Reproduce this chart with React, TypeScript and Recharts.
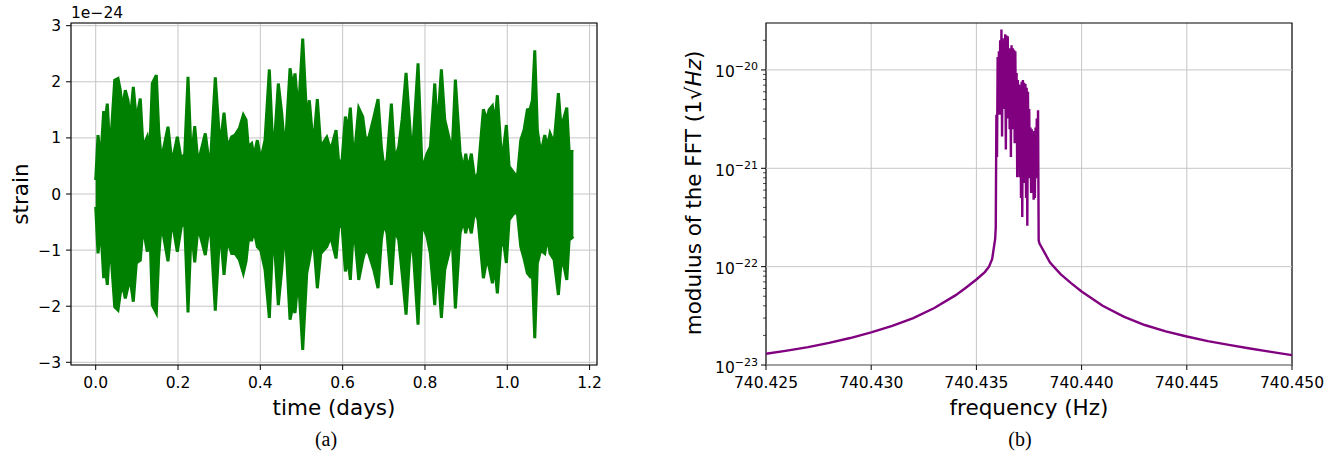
import React from 'react';
import {
  ComposedChart, Area, LineChart, Line, XAxis, YAxis, CartesianGrid, ReferenceArea, ReferenceLine,
} from 'recharts';

// (a) strain envelope, values in units of 1e-24
const timeDays = [
  0, 0.0056, 0.0122, 0.0194, 0.0233, 0.0282, 0.0348, 0.0462, 0.0542, 0.0598, 0.0646, 0.0719, 0.0785, 0.0841,
  0.0914, 0.0987, 0.1084, 0.1149, 0.1254, 0.1312, 0.1375, 0.1473, 0.1531, 0.1594, 0.1757, 0.1854, 0.1983,
  0.208, 0.2163, 0.2243, 0.2323, 0.2406, 0.2486, 0.2663, 0.2778, 0.2906,
  0.3021, 0.3118, 0.3198, 0.3305, 0.3385, 0.349, 0.3587, 0.3653, 0.3708, 0.3791, 0.3847, 0.3927, 0.401,
  0.4114, 0.4219, 0.4316, 0.4437, 0.452, 0.46, 0.4722, 0.4787, 0.4843, 0.4924, 0.503, 0.5128, 0.5191,
  0.5288, 0.5385, 0.5468, 0.5614, 0.5711, 0.584,
  0.5905, 0.5986, 0.6066, 0.6131, 0.6187, 0.627, 0.6391, 0.6488, 0.6552, 0.6634, 0.6756, 0.686, 0.6941,
  0.6999, 0.7079, 0.7184, 0.7266, 0.7363, 0.7444, 0.7541, 0.7621, 0.7687, 0.7832, 0.793, 0.8051, 0.8131,
  0.8238, 0.8301, 0.8399, 0.8481, 0.8578, 0.8659, 0.8739,
  0.8853, 0.8933, 0.8991, 0.9047, 0.9127, 0.921, 0.929, 0.9419, 0.9502, 0.9558, 0.9638, 0.9696, 0.9759,
  0.9842, 0.9905, 0.9978, 1.0044, 1.0165, 1.0246, 1.0328, 1.0408, 1.0488, 1.0554, 1.061, 1.0668, 1.0731,
  1.0814, 1.0911, 1.0974, 1.104, 1.1137, 1.1242, 1.13, 1.1363, 1.1446, 1.1502, 1.1606,
];
const strainUpper = [
  0.25, 1.05, 0.61, 1.48, 1.32, 1.61, 0.72, 2.03, 2.06, 1.85, 1.5, 1.85, 1.67, 1.32, 1.91, 1.32, 1.7, 0.84,
  1.02, 0.72, 1.97, 2.12, 1.14, 0.61, 1.2, 0.55, 1.02, 0.61, 0.72, 2.09, 0.61, 1.21, 0.55, 1.08, 0.43, 2.08,
  0.84, 1.45, 0.84, 1.02, 1.05, 1.17, 1.41, 1.32, 0.84, 0.9, 0.67, 0.96, 0.61, 0.96, 2.22, 0.61, 1.97, 1.44,
  0.72, 2.24, 1.91, 2.15, 1.44, 2.77, 1.32, 1.67, 0.84, 1.69, 0.84, 1.01, 0.78, 1.14,
  0.55, 0.61, 1.38, 1.14, 1.54, 0.55, 1.53, 1.38, 1.0, 1.0, 1.36, 1.69, 0.84, 0.49, 0.61, 1.61, 0.61, 0.84,
  1.32, 2.16, 1.32, 0.61, 2.33, 0.43, 0.72, 0.84, 1.97, 1.14, 2.22, 1.32, 1.02, 0.72, 2.04,
  0.75, 0.43, 0.72, 0.43, 0.72, 0.25, 0.37, 1.51, 1.32, 1.5, 1.57, 1.25, 1.76, 0.84, 0.78, 1.23, 0.49, 0.37,
  0.31, 0.96, 1.14, 1.5, 1.51, 1.67, 2.56, 1.14, 0.72, 1.05, 0.84, 1.08, 0.9, 1.8, 1.25, 1.32, 1.54, 0.78, 0.75,
];
const strainLower = [
  -0.23, -1.06, -0.58, -1.5, -1.29, -1.62, -0.82, -2.01, -2.07, -1.77, -1.6, -1.86, -1.65, -1.53, -1.92, -1.23,
  -1.18, -0.58, -1.03, -0.52, -1.98, -2.12, -1.12, -0.52, -1.2, -0.46, -1.03, -0.58, -0.52, -2.11, -0.58, -1.22,
  -0.58, -1.09, -0.46, -2.08,
  -0.58, -1.44, -0.82, -1.06, -1.06, -1.17, -1.41, -1.2, -0.82, -0.82, -0.64, -0.94, -1.0, -1.35, -2.21, -0.58,
  -1.98, -1.35, -0.58, -2.24, -2.0, -2.12, -1.47, -2.78, -1.41, -1.17, -0.76, -1.68, -1.06, -0.94, -0.76, -1.15,
  -0.58, -0.58, -1.38, -1.17, -1.53, -0.52, -1.53, -1.17, -1.0, -1.06, -1.35, -1.68, -0.82, -0.52, -0.7, -1.62,
  -0.64, -0.82, -1.41, -2.15, -1.17, -0.7, -2.33, -0.52, -0.76, -1.06, -1.98, -1.17, -2.21, -1.35, -1.06, -0.76,
  -2.04,
  -0.7, -0.46, -0.7, -0.46, -0.7, -0.29, -0.46, -1.5, -1.17, -1.29, -1.59, -1.29, -1.77, -0.94, -0.82, -1.23,
  -0.46, -0.34, -0.34, -0.94, -1.15, -1.41, -1.47, -1.41, -2.57, -1.23, -1.0, -1.06, -0.76, -1.06, -1.17, -1.8,
  -1.29, -1.23, -1.53, -0.82, -0.76,
];
const timeTicks = [0, 0.2, 0.4, 0.6, 0.8, 1.0, 1.2];
const strainTicks = [-3, -2, -1, 0, 1, 2, 3];

// (b) FFT modulus
const leftWingFreq = [
  740.425, 740.426, 740.427, 740.428, 740.429, 740.43, 740.431, 740.432, 740.433, 740.434, 740.4345, 740.435,
  740.4354, 740.4356, 740.43575, 740.43589,
];
const leftWingAmp = [
  1.3e-23, 1.4e-23, 1.52e-23, 1.68e-23, 1.88e-23, 2.15e-23, 2.5e-23, 3.0e-23, 3.8e-23, 5.1e-23, 6.1e-23, 7.4e-23,
  8.8e-23, 1.0e-22, 1.2e-22, 1.9e-22,
];
const peakFreq = [
  740.43592, 740.43595, 740.43598, 740.43601, 740.43604, 740.43607, 740.4361, 740.43613, 740.43616, 740.43619,
  740.43622, 740.43625, 740.43628, 740.43631, 740.43634, 740.43637, 740.4364, 740.43643, 740.43646, 740.43649,
  740.43652, 740.43655, 740.43658, 740.43661, 740.43664, 740.43667, 740.4367, 740.43673, 740.43676, 740.43679,
  740.43682, 740.43685, 740.43688, 740.43691, 740.43694, 740.43697, 740.437, 740.43703, 740.43706, 740.43709,
  740.43712, 740.43715, 740.43718, 740.43721, 740.43724, 740.43727, 740.4373, 740.43733, 740.43736, 740.43739,
  740.43742, 740.43745, 740.43748, 740.43751, 740.43754, 740.43757, 740.4376, 740.43763, 740.43766, 740.43769,
  740.43772, 740.43775, 740.43778, 740.43781, 740.43784, 740.43787, 740.4379, 740.43793,
];
const peakAmp = [
  2.5e-22, 3.5e-21, 1.3e-21, 1.35e-20, 3.5e-21, 1.55e-20, 3.5e-21, 2.0e-20, 4.3e-21, 2.57e-20,
  2.1e-21, 2.1e-20, 5e-21, 1.86e-20, 4e-21, 2.3e-20, 1.55e-21, 2.24e-20, 3.5e-21, 2.2e-20,
  3.2e-21, 1.6e-20, 2.5e-21, 1.66e-20, 1.3e-21, 1.78e-20, 3e-21, 1.66e-20, 2.5e-21, 1.6e-20,
  1.8e-21, 1.55e-20, 2e-21, 9.3e-21, 8.1e-22, 7.9e-21, 1.26e-21, 7.1e-21, 8.1e-22, 6.8e-21,
  5e-22, 7.6e-21, 3.2e-22, 7.9e-21, 1e-21, 7.4e-21, 7.1e-22, 7.2e-21, 5e-22, 6.6e-21,
  2.6e-22, 6.0e-21, 8.1e-22, 4e-21, 7.9e-22, 2.6e-21, 5.6e-22, 2.5e-21, 6.3e-22, 2.24e-21,
  4.8e-22, 2.4e-21, 5e-22, 2.6e-21, 7.9e-22, 3.2e-21, 1e-21, 3.9e-21,
];
const rightWingFreq = [
  740.43796, 740.438, 740.4385, 740.439, 740.4395, 740.44, 740.441, 740.442, 740.443, 740.444, 740.445,
  740.446, 740.447, 740.448, 740.449, 740.45,
];
const rightWingAmp = [
  1.85e-22, 1.72e-22, 1.1e-22, 8.4e-23, 6.8e-23, 5.6e-23, 4.0e-23, 3.1e-23, 2.55e-23, 2.2e-23, 1.95e-23,
  1.75e-23, 1.6e-23, 1.47e-23, 1.36e-23, 1.26e-23,
];
const freqTicks = [740.425, 740.43, 740.435, 740.44, 740.445, 740.45];
const decadeTicks = [1e-23, 1e-22, 1e-21, 1e-20];
const minorSteps = [2, 3, 4, 5, 6, 7, 8, 9];

const FONT = 'DejaVu Sans';
const GRID = '#c6c6c6';

const strainData = timeDays.map((t, i) => ({ t, band: [strainLower[i], strainUpper[i]] }));
const fftData = [
  ...leftWingFreq.map((f, i) => ({ f, amp: leftWingAmp[i] })),
  ...peakFreq.map((f, i) => ({ f, amp: peakAmp[i] })),
  ...rightWingFreq.map((f, i) => ({ f, amp: rightWingAmp[i] })),
];
const logTicks = [
  ...decadeTicks,
  ...decadeTicks.flatMap((d) => minorSteps.map((m) => m * d)).filter((v) => v < 2.9e-20),
].sort((a, b) => a - b);

const tickStyle = { fill: '#000', fontSize: 15.5, fontFamily: FONT };
const fmtMinus = (v: number) => (v < 0 ? '\u2212' + Math.abs(v) : String(v));

// y axis of (b): plot left edge inside its chart
const AX_B = 106;

function LogTick(props: any) {
  const { y, payload } = props;
  const e = Math.log10(payload.value);
  const major = Math.abs(e - Math.round(e)) < 1e-6;
  return (
    <g>
      <line x1={AX_B - (major ? 5 : 3)} x2={AX_B} y1={y} y2={y} stroke="#000" strokeWidth={major ? 1 : 0.7} />
      {major && (
        <text x={AX_B - 8} y={y + 7.5} textAnchor="end" fontSize={15.5} fontFamily={FONT} fill="#000">
          10
          <tspan dy={-7} fontSize={11}>{'\u2212' + Math.abs(Math.round(e))}</tspan>
        </text>
      )}
    </g>
  );
}

function StrainChart() {
  return (
    <ComposedChart width={620} height={420} data={strainData} margin={{ top: 23, right: 23, bottom: 25, left: 21 }}>
      <CartesianGrid stroke={GRID} strokeWidth={1} />
      <XAxis
        dataKey="t" type="number" domain={[-0.06, 1.218]} allowDataOverflow ticks={timeTicks}
        tickFormatter={(v: number) => v.toFixed(1)} height={30} axisLine={false}
        tickSize={5} tickMargin={7} tick={tickStyle} tickLine={{ stroke: '#000' }} interval={0}
      />
      <YAxis
        type="number" domain={[-3.048, 3.048]} allowDataOverflow ticks={strainTicks} width={50}
        tickFormatter={fmtMinus} axisLine={false} tickSize={5} tickMargin={5} tick={tickStyle}
        tickLine={{ stroke: '#000' }} interval={0}
      />
      <Area
        type="linear" dataKey="band" stroke="#008000" strokeWidth={3} fill="#008000" fillOpacity={1}
        dot={false} activeDot={false} isAnimationActive={false}
      />
      <ReferenceArea x1={-0.06} x2={1.218} y1={-3.048} y2={3.048} fill="none" stroke="#000" strokeWidth={1.1} />
    </ComposedChart>
  );
}

function FftChart() {
  return (
    <LineChart width={677} height={420} data={fftData} margin={{ top: 23, right: 45, bottom: 25, left: 40 }}>
      <CartesianGrid stroke={GRID} strokeWidth={1} horizontal={false} />
      {decadeTicks.map((d) => (
        <ReferenceLine key={d} y={d} stroke={GRID} strokeWidth={1} />
      ))}
      <XAxis
        dataKey="f" type="number" domain={[740.425, 740.45]} allowDataOverflow ticks={freqTicks}
        tickFormatter={(v: number) => v.toFixed(3)} height={30} axisLine={false}
        tickSize={5} tickMargin={7} tick={tickStyle} tickLine={{ stroke: '#000' }} interval={0}
      />
      <YAxis
        type="number" scale="log" domain={[1e-23, 3e-20]} allowDataOverflow ticks={logTicks} width={66}
        axisLine={false} tickLine={false} tick={<LogTick />} interval={0}
      />
      <Line
        type="linear" dataKey="amp" stroke="#800080" strokeWidth={2.4} dot={false} activeDot={false}
        isAnimationActive={false}
      />
      <ReferenceArea x1={740.425} x2={740.45} y1={1e-23} y2={3e-20} fill="none" stroke="#000" strokeWidth={1.1} />
    </LineChart>
  );
}

export default function App() {
  return (
    <div style={{ position: 'absolute', left: 0, top: 0, width: 1337, height: 455, background: '#fff', fontFamily: FONT }}>
      <div style={{ position: 'absolute', left: 0, top: 0 }}>
        <StrainChart />
      </div>
      <div style={{ position: 'absolute', left: 660, top: 0 }}>
        <FftChart />
      </div>
      <svg width={1337} height={455} style={{ position: 'absolute', left: 0, top: 0, pointerEvents: 'none' }}>
        <g fontFamily={FONT} fill="#000">
          <text x={71} y={18} fontSize={15.5}>1e{'\u2212'}24</text>
          <text x={28} y={194} fontSize={21.5} textAnchor="middle" transform="rotate(-90 28 194)">strain</text>
          <text x={334} y={415} fontSize={21.5} textAnchor="middle">time (days)</text>
          <text x={701} y={193} fontSize={21.5} textAnchor="middle" transform="rotate(-90 701 193)">
            modulus of the FFT (1{'\u221A'}<tspan fontStyle="italic">Hz</tspan>)
          </text>
          <text x={1029} y={415} fontSize={21.5} textAnchor="middle">frequency (Hz)</text>
        </g>
        <g fontFamily="Liberation Serif" fontSize={20} fill="#000" textAnchor="middle">
          <text x={326} y={446}>(a)</text>
          <text x={1020} y={446}>(b)</text>
        </g>
      </svg>
    </div>
  );
}
